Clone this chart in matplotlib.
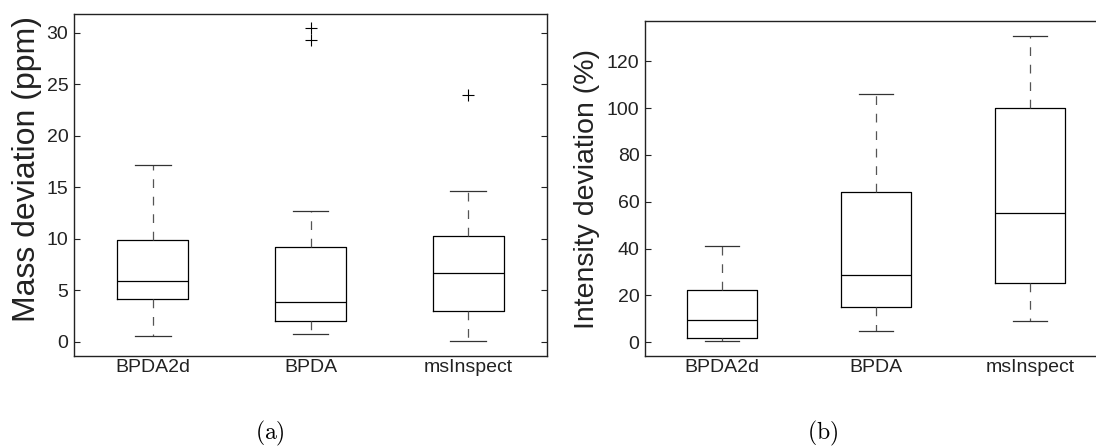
import matplotlib
matplotlib.use('Agg')
import matplotlib.pyplot as plt

plt.rcParams['font.family'] = ['Liberation Sans', 'DejaVu Sans']
plt.rcParams['mathtext.fontset'] = 'cm'

methods = ['BPDA2d', 'BPDA', 'msInspect']

# (a) mass deviation, ppm
mass_whislo = [0.58, 0.71, 0.06]
mass_q1 = [4.16, 2.05, 2.99]
mass_med = [5.84, 3.83, 6.69]
mass_q3 = [9.84, 9.19, 10.23]
mass_whishi = [17.1, 12.73, 14.6]
mass_fliers = [[], [30.45, 29.29], [23.96]]

# (b) intensity deviation, %
int_whislo = [0.7, 4.8, 9.2]
int_q1 = [2.0, 15.2, 25.2]
int_med = [9.4, 28.6, 55.0]
int_q3 = [22.5, 64.0, 100.0]
int_whishi = [41.1, 106.2, 131.0]
int_fliers = [[], [], []]


def stats(lo, q1, med, q3, hi, fl):
    out = []
    for i in range(len(methods)):
        out.append({'label': methods[i], 'whislo': lo[i], 'q1': q1[i], 'med': med[i],
                    'q3': q3[i], 'whishi': hi[i], 'fliers': fl[i]})
    return out


def draw(ax, st, ylim, yticks, ylabel, lsize, lx, ly):
    ax.bxp(st, positions=[1, 2, 3], widths=0.45, capwidths=0.225,
           boxprops=dict(color='black', lw=0.9),
           medianprops=dict(color='black', lw=0.9),
           whiskerprops=dict(color='#555555', lw=0.9, linestyle=(0, (7, 7))),
           capprops=dict(color='#333333', lw=0.9),
           flierprops=dict(marker='+', markeredgecolor='black', markersize=8, markeredgewidth=0.8))
    ax.set_xlim(0.5, 3.5)
    ax.set_ylim(*ylim)
    ax.set_yticks(yticks)
    ax.tick_params(axis='y', direction='in', length=4, width=0.8, left=True, right=True,
                   labelsize=14, pad=4, colors='#222222')
    ax.tick_params(axis='x', length=0, labelsize=14, pad=2, colors='#222222')
    for s in ax.spines.values():
        s.set_linewidth(1.0)
        s.set_color('#222222')
    ax.set_ylabel(ylabel, fontsize=lsize, color='#222222')
    ax.yaxis.set_label_coords(lx, ly)


fig = plt.figure(figsize=(10.96, 4.48), dpi=100)
ax1 = fig.add_axes([74 / 1096, 92 / 448, 473 / 1096, 342 / 448])
ax2 = fig.add_axes([645 / 1096, 92 / 448, 462 / 1096, 335 / 448])

draw(ax1, stats(mass_whislo, mass_q1, mass_med, mass_q3, mass_whishi, mass_fliers),
     (-1.39, 31.8), [0, 5, 10, 15, 20, 25, 30], 'Mass deviation (ppm)', 23, -0.068, 0.547)
draw(ax2, stats(int_whislo, int_q1, int_med, int_q3, int_whishi, int_fliers),
     (-5.85, 137.2), [0, 20, 40, 60, 80, 100, 120], 'Intensity deviation (%)', 20.5, -0.097, 0.4985)

fig.text(270 / 1096, 1 - 433 / 448, r'$\mathrm{(a)}$', fontsize=17, ha='center', va='center')
fig.text(823 / 1096, 1 - 433 / 448, r'$\mathrm{(b)}$', fontsize=17, ha='center', va='center')

fig.savefig('out.png', dpi=100)
